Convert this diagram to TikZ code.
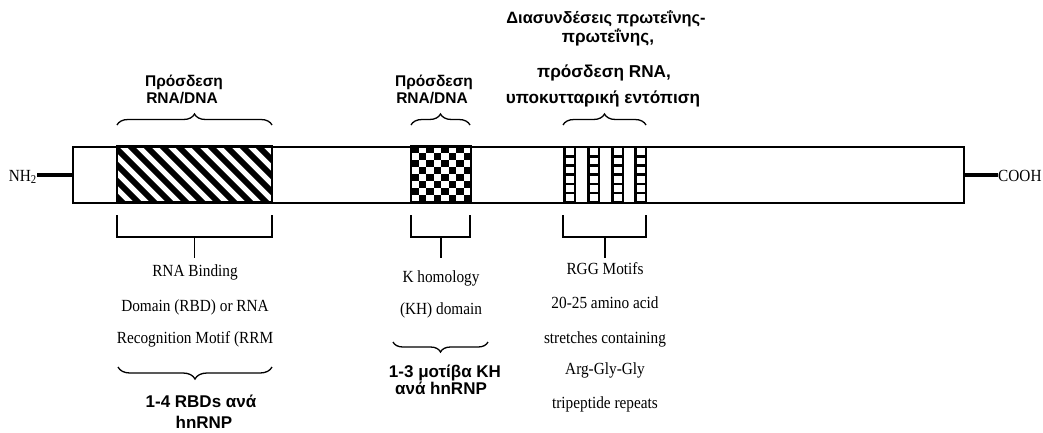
\documentclass[tikz,border=0pt]{standalone}
\usepackage{fontspec}
\setmainfont{Liberation Serif}
\newfontfamily\narrowserif[FakeStretch=0.9]{Liberation Serif}
\newfontfamily\headfont{Liberation Sans}
\usetikzlibrary{decorations.pathreplacing}
\begin{document}
\begin{tikzpicture}[x=1pt,y=-1pt,
  outline/.style={line width=1.5pt},
  terminal/.style={line width=4.5pt},
  bracketline/.style={line width=1.5pt},
  bracepath/.style={line width=1.3pt, decorate, decoration={brace, amplitude=#1}},
  bracepath/.default=11pt,
  desc/.style={font=\narrowserif\fontsize{17}{20}\selectfont, inner sep=0pt, anchor=base},
  headtxt/.style={font=\headfont\bfseries\fontsize{15.5}{18}\selectfont, inner sep=0pt, anchor=base},
  bighead/.style={headtxt, font=\headfont\bfseries\fontsize{17.2}{20}\selectfont},
  foottxt/.style={font=\headfont\bfseries\fontsize{17}{20}\selectfont, inner sep=0pt, anchor=base},
]
\useasboundingbox (0,0) rectangle (1043,432);

% RNA binding domain: diagonal hatching
\begin{scope}
  \clip (117,146) rectangle (272,202);
  \foreach \x in {45,61,...,285} \draw[line width=5.8pt] (\x,141) -- (\x+66,207);
\end{scope}
\draw[outline] (117,146) rectangle (272,202);

% KH domain: checkerboard
\begin{scope}
  \clip (411,146) rectangle (471,202);
  \foreach \i in {0,...,7}{
    \foreach \j in {0,...,7}{
      \pgfmathtruncatemacro{\chk}{mod(\i+\j,2)}
      \ifnum\chk=0 \fill (411+7.5*\i,146+7*\j) rectangle ++(7.5,7);\fi
    }
  }
\end{scope}
\draw[outline] (411,146) rectangle (471,202);

% RGG motifs: four ladder blocks
\foreach \x in {563,587,611,634}{
  \fill (\x,146) rectangle (\x+13,202);
  \foreach \k in {0,...,5}
    \fill[white] (\x+3.2,148.3+\k*9.2) rectangle ++(7.6,6.6);
}

% protein chain
\node[draw, outline, minimum width=891pt, minimum height=56pt, inner sep=0pt, anchor=north west] (chain) at (72,146) {};
\node[desc, anchor=base east] (nterm) at (37,181) {NH\textsubscript{2}};
\node[desc, anchor=base west] (cterm) at (998,181) {COOH};
\draw[terminal] (chain.west) -- (chain.west -| nterm.east);
\draw[terminal] (chain.east) -- (chain.east -| cterm.west);

% square brackets below the domains
\draw[bracketline] (117,215) -- (117,237) -- (272,237) -- (272,215);
\draw[bracketline] (194.5,237) -- (194.5,258);
\draw[bracketline] (411,215) -- (411,237) -- (470,237) -- (470,215);
\draw[bracketline] (441,237) -- (441,258);
\draw[bracketline] (563,215) -- (563,237) -- (646,237) -- (646,215);
\draw[bracketline] (605,237) -- (605,258);

% braces above the domains
\draw[bracepath] (117,125) -- (272,125);
\draw[bracepath] (411,125) -- (470,125);
\draw[bracepath] (563,125) -- (646,125);

% braces below the descriptions
\draw[bracepath=12pt] (272,367) -- (118,367);
\draw[bracepath=10pt] (488,342) -- (393,342);

% functions
\node[headtxt] (fa1) at (184,86) {Πρόσδεση};
\node[headtxt] (fa2) at (182,103) {RNA/DNA};
\node[headtxt] (fb1) at (434,86) {Πρόσδεση};
\node[headtxt] (fb2) at (432,103) {RNA/DNA};
\node[bighead, font=\headfont\bfseries\fontsize{16.4}{20}\selectfont] (fc1) at (606,23) {Διασυνδέσεις πρωτεΐνης-};
\node[bighead] (fc2) at (608,42) {πρωτεΐνης,};
\node[bighead] (fc3) at (604,77) {πρόσδεση RNA,};
\node[bighead] (fc4) at (603,103) {υποκυτταρική εντόπιση};

% domain descriptions
\node[desc] (da1) at (195,276) {RNA Binding};
\node[desc] (da2) at (195,311) {Domain (RBD) or RNA};
\node[desc] (da3) at (195,343) {Recognition Motif (RRM};
\node[desc] (db1) at (441,282) {K homology};
\node[desc] (db2) at (441,314) {(KH) domain};
\node[desc] (dc1) at (605,274) {RGG Motifs};
\node[desc] (dc2) at (605,308) {20-25 amino acid};
\node[desc] (dc3) at (605,343) {stretches containing};
\node[desc] (dc4) at (605,374) {Arg-Gly-Gly};
\node[desc] (dc5) at (605,408) {tripeptide repeats};

% counts per hnRNP
\node[foottxt] (ca1) at (201,407) {1-4 RBDs ανά};
\node[foottxt] (ca2) at (204,428) {hnRNP};
\node[foottxt] (cb1) at (445,377) {1-3 μοτίβα KH};
\node[foottxt] (cb2) at (441,394) {ανά hnRNP};
\end{tikzpicture}
\end{document}
